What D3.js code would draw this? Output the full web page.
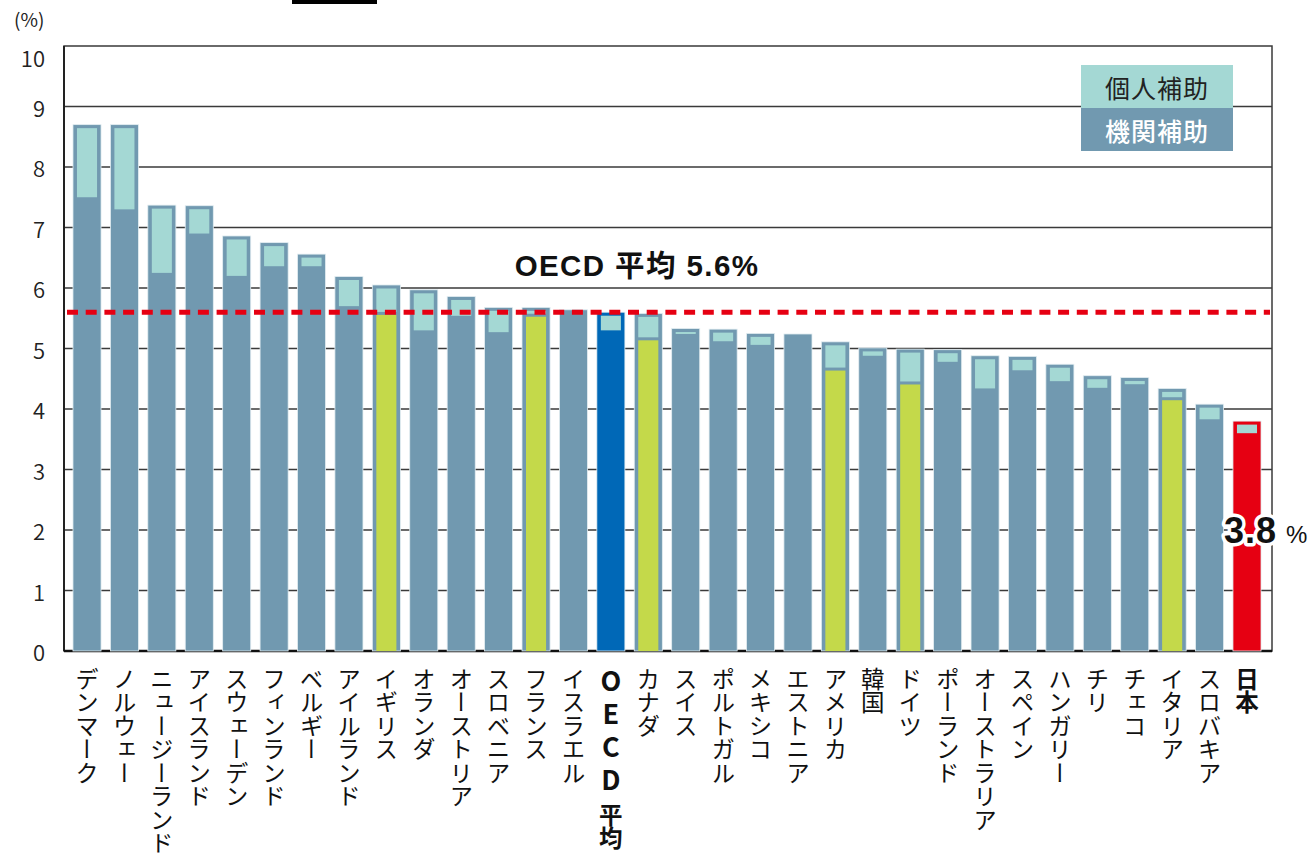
<!DOCTYPE html>
<html lang="ja">
<head>
<meta charset="utf-8">
<script src="https://cdn.jsdelivr.net/npm/d3@7"></script>
<style>
  html, body { margin: 0; padding: 0; background: #fff; }
  svg { display: block; font-family: "Noto Sans CJK JP", "Noto Sans", sans-serif; }
  .vlabel { writing-mode: vertical-rl; text-orientation: upright; }
  .latin { font-family: "Liberation Sans", "Noto Sans CJK JP", sans-serif; }
</style>
</head>
<body>
<svg id="chart" width="1316" height="861"></svg>
<script>
// Public spending on tertiary education as a share of GDP (%), by country
const countries = [
  "デンマーク", "ノルウェー", "ニュージーランド", "アイスランド", "スウェーデン",
  "フィンランド", "ベルギー", "アイルランド", "イギリス", "オランダ",
  "オーストリア", "スロベニア", "フランス", "イスラエル", "OECD平均",
  "カナダ", "スイス", "ポルトガル", "メキシコ", "エストニア",
  "アメリカ", "韓国", "ドイツ", "ポーランド", "オーストラリア",
  "スペイン", "ハンガリー", "チリ", "チェコ", "イタリア",
  "スロバキア", "日本"
];
// institutional support (機関補助)
const institutional = [
  7.50, 7.30, 6.25, 6.90, 6.20,
  6.36, 6.36, 5.70, 5.58, 5.30,
  5.54, 5.27, 5.55, 5.64, 5.30,
  5.16, 5.24, 5.12, 5.06, 5.24,
  4.66, 4.88, 4.43, 4.78, 4.34,
  4.64, 4.46, 4.35, 4.41, 4.17,
  3.83, 3.60
];
// support to individuals (個人補助)
const individual = [
  1.20, 1.40, 1.12, 0.46, 0.66,
  0.39, 0.20, 0.49, 0.47, 0.67,
  0.32, 0.41, 0.13, 0.00, 0.30,
  0.42, 0.09, 0.20, 0.19, 0.00,
  0.45, 0.13, 0.56, 0.20, 0.54,
  0.23, 0.28, 0.20, 0.11, 0.17,
  0.25, 0.20
];
const yTicks = [0, 1, 2, 3, 4, 5, 6, 7, 8, 9, 10];
const oecdAverage = 5.6;
const japanTotal = 3.8;
const g7Highlight = ["イギリス", "フランス", "カナダ", "アメリカ", "ドイツ", "イタリア"];
const averageName = "OECD平均";
const homeName = "日本";
const legendItems = ["個人補助", "機関補助"];

const COL = {
  steel: "#7199b0",
  light: "#a4d8d4",
  yellow: "#c4d94a",
  blue: "#0068b7",
  red: "#e60012",
  grid: "#3a3a3a"
};

const svg = d3.select("#chart");
const plot = { left: 64, right: 1272, top: 46, bottom: 651 };

const x = d3.scaleBand()
  .domain(countries)
  .range([68.3, 1265.7])
  .paddingInner(0.25)
  .paddingOuter(0.125);
const y = d3.scaleLinear().domain([0, 10]).range([plot.bottom, plot.top]);

// small black mark at the top edge
svg.append("rect").attr("x", 292).attr("y", 0).attr("width", 85).attr("height", 4).attr("fill", "#000");

// unit label
svg.append("text").attr("x", 14).attr("y", 27)
  .attr("font-size", 19).attr("fill", "#222").text("(%)");

// horizontal grid lines
svg.append("g").selectAll("line")
  .data(yTicks.filter(d => d > 0 && d < 10))
  .join("line")
  .attr("x1", plot.left).attr("x2", plot.right)
  .attr("y1", d => y(d)).attr("y2", d => y(d))
  .attr("stroke", COL.grid).attr("stroke-width", 1.5);

// frame
svg.append("rect")
  .attr("x", plot.left).attr("y", plot.top)
  .attr("width", plot.right - plot.left).attr("height", plot.bottom - plot.top)
  .attr("fill", "none").attr("stroke", COL.grid).attr("stroke-width", 1.5);
svg.append("line").attr("x1", plot.left).attr("x2", plot.left)
  .attr("y1", plot.top).attr("y2", plot.bottom).attr("stroke", "#222").attr("stroke-width", 2);
svg.append("line").attr("x1", plot.left).attr("x2", plot.right)
  .attr("y1", plot.bottom).attr("y2", plot.bottom).attr("stroke", "#111").attr("stroke-width", 2.5);

// y tick labels
svg.append("g").selectAll("text")
  .data(yTicks)
  .join("text")
  .attr("x", 45)
  .attr("y", d => y(d) + (d === 10 ? 11 : 0))
  .attr("text-anchor", "end")
  .attr("dominant-baseline", "central")
  .attr("font-size", 22)
  .attr("font-weight", 350)
  .attr("fill", "#222")
  .text(d => d);

// bars
const rows = countries.map((c, i) => ({
  name: c,
  inst: institutional[i],
  ind: individual[i],
  total: +(institutional[i] + individual[i]).toFixed(2)
}));

const outerColor = d => d.name === averageName ? COL.blue : d.name === homeName ? COL.red : COL.steel;
const isYellow = d => g7Highlight.includes(d.name);
const inset = 4;

const bars = svg.append("g").selectAll("g").data(rows).join("g");

bars.append("rect")
  .attr("x", d => x(d.name))
  .attr("y", d => y(d.total))
  .attr("width", x.bandwidth())
  .attr("height", d => y(0) - y(d.total))
  .attr("fill", outerColor)
  .attr("stroke", "#e4eef2").attr("stroke-width", 0.8);

// individual support part (inset)
bars.filter(d => d.ind > 0).append("rect")
  .attr("x", d => x(d.name) + inset)
  .attr("y", d => y(d.total) + 3.5)
  .attr("width", x.bandwidth() - inset * 2)
  .attr("height", d => Math.max(1.5, y(d.inst) - (isYellow(d) ? 1.5 : 0) - (y(d.total) + 3.5)))
  .attr("fill", COL.light);

// institutional part of highlighted countries (inset)
bars.filter(isYellow).append("rect")
  .attr("x", d => x(d.name) + inset)
  .attr("y", d => y(d.inst) + 1.5)
  .attr("width", x.bandwidth() - inset * 2)
  .attr("height", d => y(0) - y(d.inst) - 1.5)
  .attr("fill", COL.yellow);

// OECD average line
svg.append("line")
  .attr("x1", plot.left + 3).attr("x2", plot.right - 2)
  .attr("y1", y(oecdAverage)).attr("y2", y(oecdAverage))
  .attr("stroke", COL.red).attr("stroke-width", 5)
  .attr("stroke-dasharray", "11 7.7");

svg.append("text")
  .attr("class", "latin")
  .attr("x", 637).attr("y", 276)
  .attr("text-anchor", "middle")
  .attr("font-size", 29.5).attr("font-weight", 700)
  .attr("letter-spacing", 1.4)
  .attr("fill", "#111")
  .text(`OECD 平均 ${oecdAverage}%`);

// Japan value label
const jp = svg.append("text")
  .attr("class", "latin")
  .attr("x", 1224).attr("y", 543)
  .attr("stroke", "#fff").attr("stroke-width", 7).attr("stroke-linejoin", "round")
  .attr("paint-order", "stroke")
  .attr("fill", "#111");
jp.append("tspan").attr("font-size", 36).attr("font-weight", 700).attr("letter-spacing", 1).text(japanTotal.toFixed(1));
jp.append("tspan").attr("dx", 9).attr("font-size", 24).attr("font-weight", 400).text("%");

// x category labels (vertical)
const xl = svg.append("g").selectAll("text")
  .data(countries)
  .join("text")
  .attr("class", "vlabel")
  .attr("x", d => x(d) + x.bandwidth() / 2)
  .attr("y", 667)
  .attr("font-size", 23.5)
  .attr("font-weight", d => (d === averageName || d === homeName) ? 700 : 400)
  .attr("fill", "#111");

// the Latin part of a label is set larger and spaced so it reads at kana pitch
xl.each(function(d) {
  const t = d3.select(this);
  const m = d.match(/^([A-Z]+)(.*)$/);
  if (m) {
    t.append("tspan").attr("font-size", 27).attr("letter-spacing", 6).text(m[1]);
    t.append("tspan").attr("dy", 4).text(m[2]);
  } else {
    t.text(d);
  }
});

// legend
const lg = svg.append("g").attr("transform", "translate(1081,65)");
lg.append("rect").attr("width", 152).attr("height", 43).attr("fill", COL.light);
lg.append("rect").attr("y", 43).attr("width", 152).attr("height", 43).attr("fill", COL.steel);
lg.append("text").attr("x", 76).attr("y", 22).attr("text-anchor", "middle")
  .attr("dominant-baseline", "central").attr("font-size", 25).attr("letter-spacing", 1)
  .attr("fill", "#222").text(legendItems[0]);
lg.append("text").attr("x", 76).attr("y", 65).attr("text-anchor", "middle")
  .attr("dominant-baseline", "central").attr("font-size", 25).attr("letter-spacing", 1)
  .attr("font-weight", 500).attr("fill", "#fff").text(legendItems[1]);
</script>
</body>
</html>
